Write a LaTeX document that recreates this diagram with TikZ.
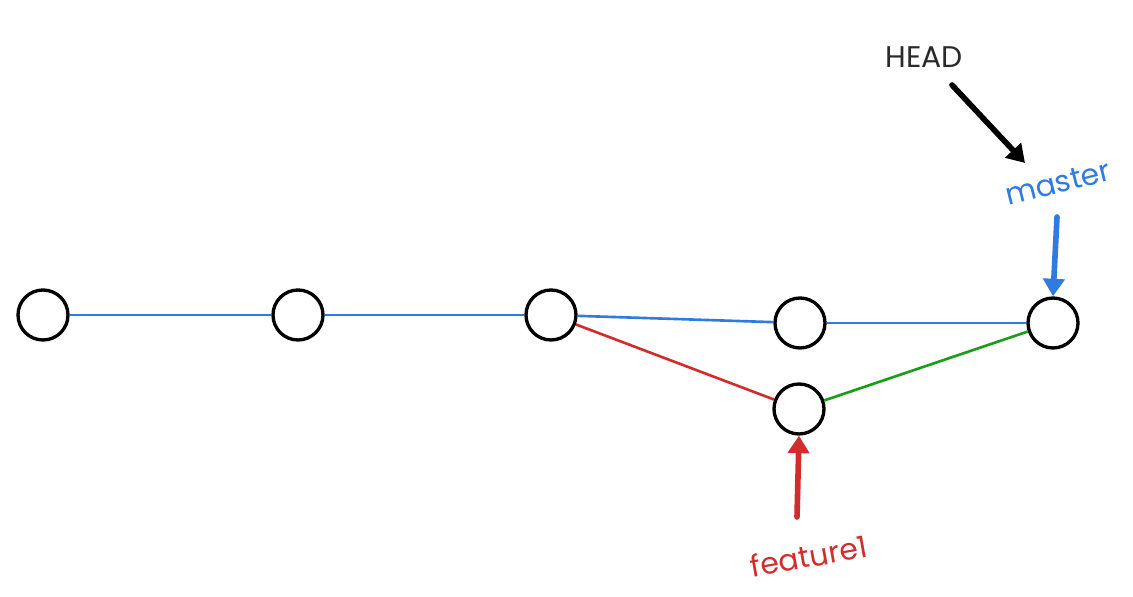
\documentclass[tikz,border=0pt]{standalone}
\usepackage{fontspec}
\setmainfont{Poppins}
\usetikzlibrary{arrows.meta}
\definecolor{gitblue}{HTML}{2F7BE0}
\definecolor{gitred}{HTML}{D12D2D}
\definecolor{gitgreen}{HTML}{1A9E1A}
\definecolor{headink}{HTML}{2A2A2A}
\begin{document}
\begin{tikzpicture}[x=0.02cm,y=-0.02cm,
  commit/.style={circle,draw=black,line width=1.9pt,minimum size=1cm,inner sep=0pt},
  link/.style={line width=1.5pt},
  ptr/.style={-{Triangle[length=10pt,width=12pt]},line width=3.2pt,line cap=round},
  lbl/.style={font=\fontsize{17}{20}\selectfont,inner sep=1pt}
]
\useasboundingbox (0,0) rectangle (1133,597);
% commits
\node[commit] (c1) at (43,315) {};
\node[commit] (c2) at (298,315) {};
\node[commit] (c3) at (551,315) {};
\node[commit] (c4) at (800,323) {};
\node[commit] (c5) at (1053,323) {};
\node[commit] (c6) at (799,409) {};
% branches
\draw[link,gitblue] (c1) -- (c2);
\draw[link,gitblue] (c2) -- (c3);
\draw[link,gitblue] (c3) -- (c4);
\draw[link,gitblue] (c4) -- (c5);
\draw[link,gitred] (c3) -- (c6);
\draw[link,gitgreen] (c6) -- (c5);
% labels
\node[lbl,color=headink] (head) at (924,57) {HEAD};
\node[lbl,color=gitblue,rotate=14] (master) at (1058,183) {master};
\node[lbl,color=gitred,rotate=10] (feat) at (809,556) {feature1};
% pointers
\coordinate (hs) at (952,85);
\coordinate (he) at (1025,163);
\coordinate (ms) at (1057,217);
\coordinate (fs) at (797,517);
\draw[ptr,black] (hs) -- (he);
\draw[ptr,gitblue] (ms) -- (c5.north);
\draw[ptr,gitred] (fs) -- (c6.south);
\end{tikzpicture}
\end{document}
